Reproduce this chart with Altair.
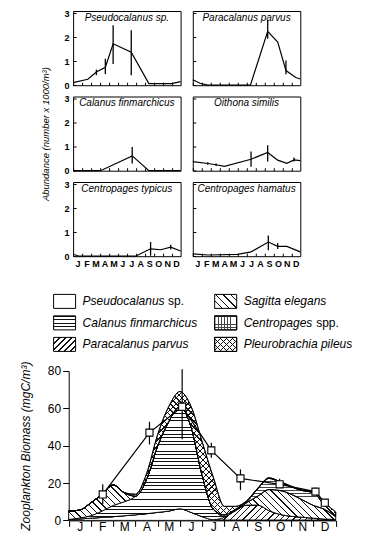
import math
import altair as alt
import pandas as pd

FONT = "Liberation Sans"
MONTHS = ["J", "F", "M", "A", "M", "J", "J", "A", "S", "O", "N", "D"]

# ---------------- top panels: abundance (number x 1000/m3) ----------------
panel_names = ["Pseudocalanus sp.", "Paracalanus parvus", "Calanus finmarchicus",
               "Oithona similis", "Centropages typicus", "Centropages hamatus"]

pseudo_m = [0, 1.64, 2.6, 3.6, 4.47, 6.49, 8.46, 11.0, 12]
pseudo_v = [0.11, 0.25, 0.55, 0.75, 1.73, 1.38, 0.07, 0.07, 0.15]
pseudo_em = [2.6, 3.6, 4.47, 6.49]
pseudo_lo = [0.42, 0.47, 0.89, 0.42]
pseudo_hi = [0.65, 1.1, 2.5, 2.3]

para_m = [0, 0.8, 1.67, 6.43, 8.36, 9.48, 10.4, 11.5, 12]
para_v = [0.23, 0.08, 0.0, 0.0, 2.25, 1.8, 0.61, 0.32, 0.26]
para_em = [8.36, 10.4]
para_lo = [1.94, 0.46]
para_hi = [2.72, 1.03]

cal_m = [0, 1.6, 3.06, 6.6, 8.46, 12]
cal_v = [0.0, 0.0, 0.0, 0.62, 0.0, 0.0]
cal_em = [6.6]
cal_lo = [0.3]
cal_hi = [0.99]

oith_m = [0, 1.67, 2.6, 3.53, 6.5, 8.36, 9.48, 10.5, 11.3, 12]
oith_v = [0.38, 0.3, 0.25, 0.18, 0.48, 0.76, 0.44, 0.31, 0.45, 0.42]
oith_em = [1.67, 2.6, 6.5, 8.36, 11.3]
oith_lo = [0.25, 0.2, 0.17, 0.38, 0.38]
oith_hi = [0.35, 0.3, 0.8, 1.06, 0.55]

typ_m = [0, 0.7, 6.97, 8.65, 9.77, 10.9, 12]
typ_v = [0.08, 0.0, 0.0, 0.31, 0.27, 0.38, 0.22]
typ_em = [8.65, 10.9]
typ_lo = [0.02, 0.28]
typ_hi = [0.59, 0.48]

ham_m = [0, 1.67, 5.0, 6.5, 8.43, 9.48, 10.5, 12]
ham_v = [0.1, 0.05, 0.08, 0.18, 0.59, 0.41, 0.41, 0.18]
ham_em = [8.43, 9.48]
ham_lo = [0.25, 0.3]
ham_hi = [0.86, 0.55]

# ---------------- bottom: biomass (mgC/m3), thickness of each stacked layer ----------------
grid_m = [0, 0.5, 1, 1.5, 2, 2.5, 3, 3.5, 4, 4.5, 5, 5.5, 6,
          6.5, 7, 7.5, 8, 8.5, 9, 9.5, 10, 10.5, 11, 11.5, 12]
b_pseudo = [0.5, 0.8, 1.2, 1.6, 2.0, 2.5, 3.0, 3.6, 4.3, 5.0, 6.2, 4.3, 2.0,
            0.4, 0.2, 0.2, 0.2, 0.2, 0.2, 0.2, 0.2, 0.2, 0.2, 0.2, 0.2]
b_para = [0, 0, 0, 0, 0, 0, 0, 0, 0, 0, 0, 0, 0,
          0, 1.5, 5, 8, 8, 5, 3, 2, 1.5, 1, 0.5, 0.3]
b_calanus = [0, 0.5, 1.3, 3.4, 6, 7.5, 10, 18.4, 35.7, 48, 54.8, 45.7, 22,
             5.6, 0.5, 0.3, 0, 0, 0, 0, 0, 0, 0, 0, 0]
b_sagitta = [4.5, 4.2, 7, 9, 11, 4.8, 0, 0, 0, 0, 0, 0, 0,
             0, 0.8, 0.5, 1.3, 4.8, 11.3, 12.8, 11.8, 9.3, 6.8, 5.2, 1.5]
b_centro = [0, 0, 0, 0, 0, 0, 0, 0, 0, 0, 0, 0, 0,
            0, 0, 0, 0.5, 4, 6, 4.5, 4, 5, 6.8, 2.1, 0]
b_pleuro = [0, 0, 0, 0, 0, 0, 1, 3, 6, 8, 8, 11, 18,
            17, 4.5, 1.5, 0.5, 0.3, 0.3, 0.3, 0.3, 0.3, 0.5, 1.5, 2.5]

tot_m = [1.53, 3.63, 5.1, 6.41, 7.72, 9.48, 11.09, 11.51]
tot_v = [13.9, 47.0, 60.9, 37.5, 22.5, 19.3, 15.4, 9.5]
tot_lo = [8.6, 40.7, 43.4, 33.6, 16.2, 17.5, 13.9, 8.5]
tot_hi = [19.3, 52.8, 80.9, 41.6, 27.3, 22.3, 17.5, 10.5]

# ---------------- legend ----------------
leg_names = ["Pseudocalanus", "Calanus finmarchicus", "Paracalanus parvus",
             "Sagitta elegans", "Centropages", "Pleurobrachia pileus"]
leg_suffix = ["sp.", "", "", "", "spp.", ""]
leg_col = [0, 0, 0, 1, 1, 1]
leg_row = [0, 1, 2, 0, 1, 2]

# ---------------- sizes ----------------
PW, PH = 107.5, 74.2
SHIFT = 4.4                    # bottom axis sits this far left of the panels' left edge
BW, BH = 262.6, 149.4          # plot group of the bottom chart (x range starts at -SHIFT)
LW, LH = 262.6, 83.7
YMAX_TOP = 3.1
YMAX_BOT = 80


def hatch(kind, W, H, period, lw=1.0, fg="black", bg="white"):
    if kind == "h":
        c = (0, 0, 0, 1)
        L = H
    elif kind == "v":
        c = (0, 0, 1, 0)
        L = W
    else:
        k = (W + H) / (W * W + H * H)
        L = (W + H) / math.sqrt(2)
        c = (0, 0, k * W, k * H) if kind == "/" else (0, 1, k * W, 1 - k * H)
    n = max(1, int(round(L / period)))
    frac = min(0.6, lw * n / L)
    stops = []
    for i in range(n):
        a = round(i / n, 5)
        b = round((i + frac) / n, 5)
        e = round((i + 1) / n, 5)
        stops += [alt.GradientStop(offset=a, color=fg), alt.GradientStop(offset=b, color=fg),
                  alt.GradientStop(offset=b, color=bg), alt.GradientStop(offset=e, color=bg)]
    return alt.Gradient(gradient="linear", x1=c[0], y1=c[1], x2=c[2], y2=c[3], stops=stops)


def fills(key, W, H):
    """list of fill layers (bottom first) for a species pattern"""
    if key == "pseudo":
        return ["white"]
    if key == "calanus":
        return [hatch("h", W, H, 3.4, 0.8, fg="#111")]
    if key == "para":
        return [hatch("/", W, H, 4.4, 0.9, fg="#111")]
    if key == "sagitta":
        return [hatch("\\", W, H, 4.8, 0.9, fg="#111")]
    if key == "centro":
        return [hatch("h", W, H, 3.0, 0.7, fg="#444"),
                hatch("v", W, H, 3.0, 0.7, fg="#444", bg="transparent")]
    if key == "pleuro":
        return [hatch("/", W, H, 4.2, 0.85, fg="#111"),
                hatch("\\", W, H, 4.2, 0.85, fg="#111", bg="transparent")]


# ---------------- top panels ----------------
month_expr = "[" + ",".join("'%s'" % m for m in MONTHS + [""]) + "][datum.value]"


def panel(name, xs, ys, ex, elo, ehi, xlab, ylab, ytitle=None):
    line_df = pd.DataFrame({"m": xs, "v": ys})
    err_df = pd.DataFrame({"m": ex, "lo": elo, "hi": ehi})
    name_df = pd.DataFrame({"t": [name]})
    xsc = alt.Scale(domain=[0, 12], nice=False, zero=False)
    ysc = alt.Scale(domain=[0, YMAX_TOP], nice=False)
    xax = alt.Axis(values=list(range(12)), tickSize=3, offset=-3, domain=False, grid=False,
                   labels=xlab, labelExpr=month_expr, labelOffset=PW / 24, labelPadding=3,
                   labelFlush=False, labelOverlap=False, labelFontSize=9, labelFontWeight="bold",
                   title=None)
    yargs = dict(values=[0, 1, 2, 3], tickSize=3, offset=-3, domain=False, grid=False,
                 labels=ylab, labelPadding=4, labelFontSize=9, labelFontWeight="bold",
                 labelOverlap=False)
    if ytitle:
        yargs.update(title=ytitle, titleFontStyle="italic", titleFontWeight="normal",
                     titleFontSize=9.5, titlePadding=13.5)
    else:
        yargs.update(title=None)
    yax = alt.Axis(**yargs)
    line = alt.Chart(line_df).mark_line(color="black", strokeWidth=1.2).encode(
        x=alt.X("m:Q", scale=xsc, axis=xax), y=alt.Y("v:Q", scale=ysc, axis=yax))
    err = alt.Chart(err_df).mark_rule(color="black", strokeWidth=1.3).encode(
        x=alt.X("m:Q", scale=xsc, axis=xax), y=alt.Y("lo:Q", scale=ysc, axis=yax), y2="hi:Q")
    label = alt.Chart(name_df).mark_text(
        fontStyle="italic", fontSize=10, font=FONT, color="black", align="center",
        baseline="middle").encode(text="t:N", x=alt.value(PW / 2), y=alt.value(6.5))
    return alt.layer(line, err, label).properties(
        width=PW, height=PH, view=alt.ViewBackground(stroke="black", strokeWidth=1))


p1 = panel(panel_names[0], pseudo_m, pseudo_v, pseudo_em, pseudo_lo, pseudo_hi, False, True)
p2 = panel(panel_names[1], para_m, para_v, para_em, para_lo, para_hi, False, False)
p3 = panel(panel_names[2], cal_m, cal_v, cal_em, cal_lo, cal_hi, False, True,
           ytitle="Abundance (number x 1000/m³)")
p4 = panel(panel_names[3], oith_m, oith_v, oith_em, oith_lo, oith_hi, False, False)
p5 = panel(panel_names[4], typ_m, typ_v, typ_em, typ_lo, typ_hi, True, True)
p6 = panel(panel_names[5], ham_m, ham_v, ham_em, ham_lo, ham_hi, True, False)

top = alt.concat(p1, p2, p3, p4, p5, p6, columns=2,
                 spacing=alt.RowColnumber(row=10.5, column=11.7), bounds="flush")

# ---------------- legend ----------------
leg_df = pd.DataFrame({"name": leg_names, "suffix": leg_suffix, "col": leg_col, "row": leg_row})
lx = alt.Scale(domain=[0.0528, 1.683], nice=False, zero=False)
ly = alt.Scale(domain=[-1.321, 2.572], reverse=True, nice=False, zero=False)
leg_keys = ["pseudo", "calanus", "para", "sagitta", "centro", "pleuro"]
leg_layers = []
for nm, key in zip(leg_names, leg_keys):
    for f in fills(key, 22, 14):
        leg_layers.append(
            alt.Chart(leg_df).transform_filter(alt.datum.name == nm).mark_rect(
                fill=f, stroke="black", strokeWidth=1, xOffset=-11, x2Offset=11,
                yOffset=-7, y2Offset=7).encode(
                x=alt.X("col:Q", scale=lx, axis=None), x2="col:Q",
                y=alt.Y("row:Q", scale=ly, axis=None), y2="row:Q"))
leg_text = alt.Chart(leg_df).mark_text(align="left", baseline="middle", dx=18, fontSize=12,
                                       fontStyle="italic", font=FONT, color="black").encode(
    x=alt.X("col:Q", scale=lx, axis=None), y=alt.Y("row:Q", scale=ly, axis=None), text="name:N")
suf_df = leg_df[leg_df["suffix"] != ""]
suf1 = alt.Chart(suf_df).transform_filter(alt.datum.col == 0).mark_text(
    align="left", baseline="middle", dx=103.4, fontSize=12, font=FONT, color="black").encode(
    x=alt.X("col:Q", scale=lx, axis=None), y=alt.Y("row:Q", scale=ly, axis=None), text="suffix:N")
suf2 = alt.Chart(suf_df).transform_filter(alt.datum.col == 1).mark_text(
    align="left", baseline="middle", dx=90.5, fontSize=12, font=FONT, color="black").encode(
    x=alt.X("col:Q", scale=lx, axis=None), y=alt.Y("row:Q", scale=ly, axis=None), text="suffix:N")
legend = alt.layer(*leg_layers, leg_text, suf1, suf2).properties(
    width=LW, height=LH, view=alt.ViewBackground(strokeOpacity=0))

# ---------------- bottom chart ----------------
layers_data = [("pseudo", b_pseudo), ("para", b_para), ("calanus", b_calanus),
               ("sagitta", b_sagitta), ("centro", b_centro), ("pleuro", b_pleuro)]
XW = BW + SHIFT
bx = alt.Scale(domain=[0, 12], range=[-SHIFT, BW], nice=False, zero=False)
by = alt.Scale(domain=[0, YMAX_BOT], nice=False)
bxax = alt.Axis(values=list(range(13)), tickSize=6, domain=True, grid=False,
                labelExpr=month_expr, labelOffset=XW / 24, labelPadding=-4.5,
                labelFlush=False, labelOverlap=False, labelFontSize=12, title=None)
byax = alt.Axis(values=[0, 20, 40, 60, 80], tickSize=6, domain=True, grid=False, offset=SHIFT,
                labelFontSize=12, labelPadding=2, title="Zooplankton Biomass (mgC/m³)",
                titleFontStyle="italic", titleFontWeight="normal", titleFontSize=12,
                titlePadding=14.5)
py = BH / YMAX_BOT
base = [0.0] * len(grid_m)
bot_layers = []
for key, vals in layers_data:
    y0 = base
    y1 = [a + b for a, b in zip(base, vals)]
    base = y1
    df = pd.DataFrame({"m": grid_m, "y0": y0, "y1": y1})
    H = (max(y1) - min(y0)) * py
    for f in fills(key, XW, H):
        bot_layers.append(
            alt.Chart(df).mark_area(fill=f, stroke="black", strokeWidth=0.9,
                                    interpolate="monotone", orient="vertical").encode(
                x=alt.X("m:Q", scale=bx, axis=bxax),
                y=alt.Y("y1:Q", scale=by, axis=byax), y2="y0:Q"))

tot_df = pd.DataFrame({"m": tot_m, "v": tot_v, "lo": tot_lo, "hi": tot_hi})
tot_err = alt.Chart(tot_df).mark_rule(color="black", strokeWidth=1.2).encode(
    x=alt.X("m:Q", scale=bx, axis=bxax), y=alt.Y("lo:Q", scale=by, axis=byax), y2="hi:Q")
tot_line = alt.Chart(tot_df).mark_line(color="black", strokeWidth=1.2).encode(
    x=alt.X("m:Q", scale=bx, axis=bxax), y=alt.Y("v:Q", scale=by, axis=byax))
tot_pts = alt.Chart(tot_df).mark_point(shape="square", filled=True, fill="white", stroke="black",
                                       strokeWidth=1.1, size=50, opacity=1).encode(
    x=alt.X("m:Q", scale=bx, axis=bxax), y=alt.Y("v:Q", scale=by, axis=byax))

bottom = alt.layer(*bot_layers, tot_err, tot_line, tot_pts).properties(
    width=BW, height=BH, view=alt.ViewBackground(strokeOpacity=0))

chart = alt.vconcat(top, legend, bottom, spacing=4).properties(
    padding={"left": 11.1, "top": 0, "right": 0, "bottom": 0}
).configure_axis(
    labelFont=FONT, titleFont=FONT, domainColor="black", tickColor="black",
    labelColor="black", titleColor="black", domainWidth=1, tickWidth=1
).configure_text(font=FONT)

chart.save("out.html", embed_options={"renderer": "svg", "actions": False})
